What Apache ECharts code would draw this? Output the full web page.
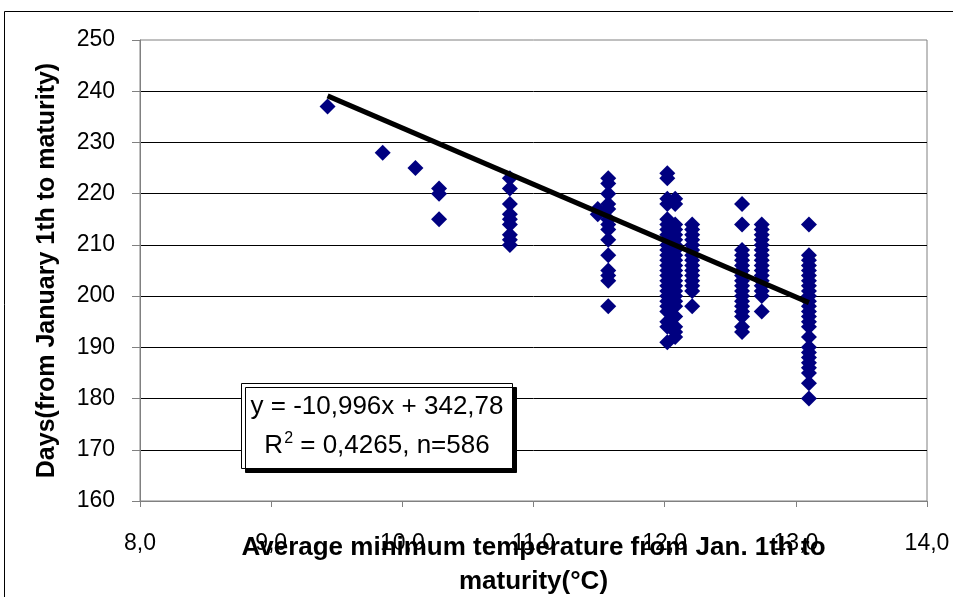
<!DOCTYPE html>
<html>
<head>
<meta charset="utf-8">
<script src="https://cdn.jsdelivr.net/npm/echarts@6/dist/echarts.min.js"></script>
<style>
  html, body { margin: 0; padding: 0; background: #fff; }
  #chart { width: 953px; height: 597px; }
</style>
</head>
<body>
<div id="chart"></div>
<script>
// Average minimum temperature (°C) of each observed group
const temps = [9.43, 9.85, 10.10, 10.28, 10.82, 11.49, 11.57, 12.02, 12.08, 12.21, 12.59, 12.74, 13.10];

// Days from January 1th to maturity, one list per temperature group
const days943 = [237];
const days985 = [228];
const days1010 = [225];
const days1028 = [221, 220, 215];
const days1082 = [223, 221, 218, 216, 215, 214, 212, 211, 210];
const days1149 = [217, 216];
const days1157 = [223, 222, 220, 218, 217, 215, 214, 213, 211, 208, 205, 204, 203, 198];
const days1202 = [224, 223, 219, 218, 215, 214, 213, 212, 211, 210, 209, 208, 207, 206, 205, 204, 203, 202, 201, 200, 199, 198, 197, 195, 194, 191];
const days1208 = [219, 218, 214, 213, 212, 211, 210, 209, 208, 207, 206, 205, 204, 203, 202, 201, 200, 199, 198, 196, 194, 193, 192];
const days1221 = [214, 213, 212, 211, 210, 209, 208, 207, 206, 205, 204, 203, 202, 201, 198];
const days1259 = [218, 214, 209, 208, 207, 206, 205, 204, 203, 202, 201, 200, 199, 198, 197, 196, 194, 193];
const days1274 = [214, 213, 212, 211, 210, 209, 208, 207, 206, 205, 204, 203, 202, 201, 200, 197];
const days1310 = [214, 208, 207, 206, 205, 204, 203, 202, 201, 200, 199, 198, 197, 196, 195, 194, 192, 190, 189, 188, 187, 186, 185, 183, 180];

const dayGroups = [days943, days985, days1010, days1028, days1082, days1149, days1157,
                   days1202, days1208, days1221, days1259, days1274, days1310];

// Linear regression stated on the chart
const slope = -10.996;
const intercept = 342.78;
const rSquared = '0,4265';
const sampleSize = 586;
const fitRange = [9.43, 13.10];

// Axis ticks
const xTicks = [8, 9, 10, 11, 12, 13, 14];
const yTicks = [160, 170, 180, 190, 200, 210, 220, 230, 240, 250];

const points = [];
temps.forEach((t, i) => dayGroups[i].forEach(d => points.push([t, d])));

const fitLine = fitRange.map(x => [x, slope * x + intercept]);

const fmt = (v, d) => v.toFixed(d).replace('.', ',');
const FONT = '"Liberation Sans", Arial, sans-serif';

const chart = echarts.init(document.getElementById('chart'), null, { renderer: 'canvas' });

chart.setOption({
  animation: false,
  backgroundColor: '#ffffff',
  grid: {
    left: 140, right: 26, top: 40, bottom: 96,
    containLabel: false, outerBoundsMode: 'none',
    show: true, borderColor: '#808080', borderWidth: 1, backgroundColor: 'transparent'
  },
  xAxis: {
    type: 'value',
    min: xTicks[0], max: xTicks[xTicks.length - 1], interval: 1,
    axisLine: { show: true, lineStyle: { color: '#808080', width: 1 } },
    axisTick: { show: true, inside: false, length: 6, lineStyle: { color: '#808080' } },
    splitLine: { show: false },
    axisLabel: {
      margin: 31, color: '#000', fontFamily: FONT, fontSize: 23,
      formatter: v => fmt(v, 1)
    },
    name: 'Average minimum temperature from Jan. 1th to\nmaturity(°C)',
    nameLocation: 'middle',
    nameGap: 30,
    nameMoveOverlap: false,
    nameTextStyle: {
      color: '#000', fontFamily: FONT, fontWeight: 'bold', fontSize: 26, lineHeight: 34
    }
  },
  yAxis: {
    type: 'value',
    min: yTicks[0], max: yTicks[yTicks.length - 1], interval: 10,
    axisLine: { show: true, lineStyle: { color: '#808080', width: 1 } },
    axisTick: { show: true, inside: false, length: 8, lineStyle: { color: '#808080' } },
    splitLine: { show: true, showMinLine: false, showMaxLine: false, lineStyle: { color: '#000', width: 1 } },
    axisLabel: { margin: 25, color: '#000', fontFamily: FONT, fontSize: 23 },
    name: 'Days(from January 1th to maturity)',
    nameLocation: 'middle',
    nameGap: 80,
    nameMoveOverlap: false,
    nameRotate: 90,
    nameTextStyle: { color: '#000', fontFamily: FONT, fontWeight: 'bold', fontSize: 25 }
  },
  series: [
    {
      name: 'Days to maturity',
      type: 'scatter',
      data: points,
      symbol: 'diamond',
      symbolSize: 16,
      itemStyle: { color: '#000080', opacity: 1 },
      z: 2
    },
    {
      name: 'Linear fit',
      type: 'line',
      data: fitLine,
      showSymbol: false,
      symbol: 'none',
      lineStyle: { color: '#000', width: 5 },
      z: 3
    }
  ],
  graphic: [
    // outer chart frame
    {
      type: 'rect', silent: true, z: 0,
      shape: { x: 4.5, y: 11.5, width: 1000, height: 700 },
      style: { fill: null, stroke: '#000', lineWidth: 1 }
    },
    // equation box with its drop shadow
    {
      type: 'rect', silent: true, z: 11,
      shape: { x: 241.5, y: 383.5, width: 271, height: 85 },
      style: {
        fill: '#fff', stroke: '#000', lineWidth: 1,
        shadowColor: '#000', shadowBlur: 0, shadowOffsetX: 4, shadowOffsetY: 4
      }
    },
    {
      type: 'text', silent: true, z: 12,
      style: {
        x: 377, y: 407,
        text: 'y = ' + fmt(slope, 3) + 'x + ' + fmt(intercept, 2),
        align: 'center', verticalAlign: 'middle',
        fill: '#000', font: '26px ' + FONT
      }
    },
    {
      type: 'text', silent: true, z: 12,
      style: {
        x: 377, y: 446,
        text: '{r|R}{s|2}{r| = ' + rSquared + ', n=' + sampleSize + '}',
        align: 'center', verticalAlign: 'middle',
        rich: {
          r: { fontFamily: FONT, fontSize: 26, fill: '#000', color: '#000' },
          s: { fontFamily: FONT, fontSize: 16, fill: '#000', color: '#000', verticalAlign: 'top', padding: [0, 0, 14, 1] }
        }
      }
    }
  ]
});
</script>
</body>
</html>
